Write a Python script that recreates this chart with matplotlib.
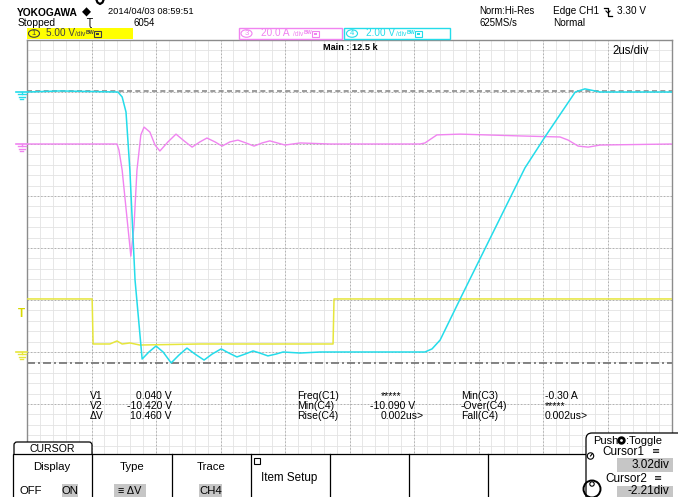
import matplotlib
matplotlib.use("Agg")
import matplotlib.pyplot as plt
from matplotlib.patches import Rectangle, FancyBboxPatch, Circle, Ellipse
import numpy as np

# time axis in us (2us/div, 10 div)
t_ch1 = [0.0, 2.02, 2.05, 2.57, 2.79, 2.95, 3.19, 3.50, 5.36, 9.49, 9.52, 20.0]
v_ch1 = [5.1, 5.1, 0.77, 0.77, 1.06, 0.77, 0.87, 0.67, 0.77, 0.77, 5.1, 5.1]

t_ch3 = [0.0, 2.79, 2.85, 2.95, 3.22, 3.32, 3.41, 3.53, 3.63, 3.81, 3.97, 4.12, 4.37, 4.62,
         4.87, 5.12, 5.36, 5.58, 5.83, 6.05, 6.29, 6.54, 6.79, 7.04, 7.29, 7.53, 8.00, 8.47,
         9.40, 12.19, 12.34, 12.71, 13.43, 15.29, 16.53, 16.78, 17.09, 17.40, 17.77, 20.0]
i_ch3 = [0.0, 0.0, -2.3, -10.0, -43.1, -31.2, -10.0, 3.5, 6.5, 4.6, -0.4, -2.7, 0.8, 3.8,
         1.2, -1.2, 0.8, 2.3, 0.8, -0.8, 0.8, 1.5, 0.4, -0.8, 0.4, 1.2, -0.4, 0.4,
         0.0, 0.0, 0.4, 3.5, 3.8, 3.1, 2.7, 1.5, -0.8, -1.2, -0.4, 0.0]

t_ch4 = [0.0, 1.02, 2.82, 2.95, 3.07, 3.19, 3.35, 3.57, 3.78, 4.00, 4.22, 4.47, 4.71, 4.96,
         5.21, 5.49, 5.74, 6.02, 6.26, 6.51, 6.76, 7.01, 7.22, 7.47, 7.72, 7.94, 8.47, 9.09,
         12.34, 12.56, 12.81, 13.49, 15.44, 16.06, 17.00, 17.30, 17.77, 20.0]
v_ch4 = [0.0, 0.04, 0.0, -0.19, -0.77, -3.0, -7.23, -10.27, -10.0, -9.77, -10.0, -10.42, -10.12, -9.85,
         -10.08, -10.31, -10.08, -9.88, -10.04, -10.19, -10.08, -9.96, -10.04, -10.15, -10.08, -10.0, -10.04, -10.0,
         -10.0, -9.88, -9.54, -7.81, -2.92, -1.73, 0.0, 0.12, 0.0, 0.0]

scales = {"CH1": 5.0, "CH3": 20.0, "CH4": 2.0}
positions = {"CH1": -2.0, "CH3": 2.0, "CH4": 3.0}
trig_level = 3.30
cursors = [3.02, -2.21]

meas_left = [("V1", "0.040 V"), ("V2", "-10.420 V"), ("ΔV", "10.460 V")]
meas_mid = [("Freq(C1)", "*****"), ("Min(C4)", "-10.090 V"), ("Rise(C4)", "0.002us>")]
meas_right = [("Min(C3)", "-0.30 A"), ("-Over(C4)", "*****"), ("Fall(C4)", "0.002us>")]

YEL = "#e6e63c"
PINK = "#f084f0"
CYAN = "#24dcea"

plt.rcParams["font.family"] = ["Liberation Sans", "DejaVu Sans"]

fig = plt.figure(figsize=(6.78, 4.97), dpi=100)
ax = fig.add_axes([27 / 678, 1 - 456 / 497, 645 / 678, 416 / 497])
ax.set_xlim(0, 20)
ax.set_ylim(-4, 4)
ax.set_xticks([])
ax.set_yticks([])
for s in ["left", "top", "right"]:
    ax.spines[s].set_color("#8c8c8c")
    ax.spines[s].set_linewidth(1.0)
ax.spines["bottom"].set_visible(False)

# graticule
for x in np.arange(0, 20.01, 0.4):
    ax.axvline(x, color="#e3e3e3", lw=0.6, zorder=0)
for y in np.arange(-4, 4.01, 0.2):
    ax.axhline(y, color="#e3e3e3", lw=0.6, zorder=0)
for x in range(2, 20, 2):
    ax.axvline(x, color="#b0b0b0", lw=0.7, ls=(0, (1.5, 2)), zorder=1)
for y in range(-3, 4):
    ax.axhline(y, color="#b0b0b0", lw=0.7, ls=(0, (1.5, 2)), zorder=1)

# cursors
ax.axhline(cursors[0], color="#8a8a8a", lw=1.2, ls=(0, (3, 2)), zorder=2)
ax.axhline(cursors[1], color="#707070", lw=1.2, ls=(0, (4.8, 1.8, 1.2, 1.8)), zorder=2)

ax.plot(t_ch1, np.array(v_ch1) / scales["CH1"] + positions["CH1"], color=YEL, lw=1.1, zorder=4)
ax.plot(t_ch3, np.array(i_ch3) / scales["CH3"] + positions["CH3"], color=PINK, lw=1.0, zorder=5)
ax.plot(t_ch4, np.array(v_ch4) / scales["CH4"] + positions["CH4"], color=CYAN, lw=1.1, zorder=6)

ov = fig.add_axes([0, 0, 1, 1], zorder=5)
ov.set_xlim(0, 678)
ov.set_ylim(497, 0)
ov.axis("off")


def ypx(d):
    return ov.transData.inverted().transform(ax.transData.transform((0, d)))[1]


# ground markers
for ch, col in [("CH4", CYAN), ("CH3", PINK), ("CH1", YEL)]:
    y0 = ypx(positions[ch])
    ov.plot([16, 27], [y0, y0], color=col, lw=1.2)
    ov.plot([21.5, 21.5], [y0, y0 + 2], color=col, lw=1.0)
    ov.plot([17.5, 25.5], [y0 + 2.5, y0 + 2.5], color=col, lw=1.0)
    ov.plot([18.5, 24.5], [y0 + 5, y0 + 5], color=col, lw=1.0)
    ov.plot([20, 23], [y0 + 7.5, y0 + 7.5], color=col, lw=1.0)
yt = ypx(trig_level / scales["CH1"] + positions["CH1"])
ov.text(21, yt - 4, "T", color="#d8d800", fontsize=8.5, fontweight="bold", ha="center", va="center")

# header (cropped glyph at the very top drawn as a stroke)
ov.plot([96.5, 97.5, 100, 102.5, 103.5], [0, 2.5, 4, 2.5, 0], color="black", lw=1.6)
ov.text(17, 12.5, "YOKOGAWA", fontsize=7.4, fontweight="bold", va="center")
ov.text(82, 12.5, "◆", fontsize=8.5, va="center", family="DejaVu Sans")
ov.text(108, 11, "2014/04/03 08:59:51", fontsize=6.7, va="center")
ov.text(18, 23.5, "Stopped", fontsize=7.4, va="center")
ov.text(86, 23, "Ʈ", fontsize=7, va="center", family="DejaVu Sans")
ov.text(133, 23.5, "6054", fontsize=6.9, va="center")
ov.text(479, 11.5, "Norm:Hi-Res", fontsize=6.9, va="center")
ov.text(479, 23, "625MS/s", fontsize=6.9, va="center")
ov.text(553, 11.5, "Edge CH1", fontsize=7.2, va="center")
ov.plot([604, 608, 608, 612], [7.5, 7.5, 15.5, 15.5], color="black", lw=0.9)
ov.plot([606, 608, 610], [11, 13, 11], color="black", lw=0.8)
ov.text(617, 11.5, "3.30 V", fontsize=7.2, va="center")
ov.text(553, 23, "Normal", fontsize=7.2, va="center")

# channel bar
ov.add_patch(Rectangle((27, 28), 106, 11, facecolor="#ffff00", edgecolor="none"))
ov.add_patch(Rectangle((239, 28), 103, 11, facecolor="white", edgecolor=PINK, lw=1.0))
ov.add_patch(Rectangle((344, 28), 106, 11, facecolor="white", edgecolor=CYAN, lw=1.0))
for cx, num, val, vx, dx, col in [(34, "1", "5.00 V", 46, 76, "#404040"),
                                  (246.5, "3", "20.0 A", 261, 294, PINK),
                                  (352, "4", "2.00 V", 366, 397, CYAN)]:
    ov.add_patch(Ellipse((cx, 33.5), 11, 7.5, fill=False, edgecolor=col, lw=0.8))
    ov.text(cx, 33.7, num, fontsize=5.5, color=col, ha="center", va="center")
    ov.text(vx, 33.5, val, fontsize=7.2, color=col, va="center")
    ov.text(dx - 1, 35, "/div", fontsize=4.8, color=col, va="center")
    ov.text(dx + 10, 32.5, "BW", fontsize=3.8, color=col, va="center", fontweight="bold")
    ov.add_patch(Rectangle((dx + 18, 30.5), 7, 6, fill=False, edgecolor=col, lw=0.8))
    ov.add_patch(Rectangle((dx + 20, 32.5), 3, 2.2, facecolor=col, edgecolor="none"))

ov.text(350, 47, "Main : 12.5 k", fontsize=6.6, fontweight="bold", ha="center", va="center")
ov.text(612, 51, "2us/div", fontsize=8.3, va="center")

# measurements
rows = [396, 406, 416]
for (lab, val), y in zip(meas_left, rows):
    ov.text(90, y, lab, fontsize=7.5, va="center")
    ov.text(172, y, val, fontsize=7.5, va="center", ha="right")
for (lab, val), y in zip(meas_mid, rows):
    ov.text(297, y, lab, fontsize=7.5, va="center")
    ov.text(370 if val.startswith("-") else 381, y, val, fontsize=7.5, va="center")
for (lab, val), y in zip(meas_right, rows):
    ov.text(461, y, lab, fontsize=7.5, va="center")
    ov.text(545, y, val, fontsize=7.5, va="center")

# soft-key menu
ov.add_patch(FancyBboxPatch((14, 442), 78, 18, boxstyle="round,pad=0,rounding_size=3",
                            facecolor="white", edgecolor="black", lw=0.9))
ov.add_patch(Rectangle((13, 454), 574, 50, facecolor="white", edgecolor="black", lw=0.9))
for x in [92, 172, 251, 330, 409, 488]:
    ov.plot([x, x], [454, 497], color="black", lw=0.9)
ov.text(52, 448.5, "CURSOR", fontsize=7.6, ha="center", va="center")
ov.text(52, 467, "Display", fontsize=8.2, ha="center", va="center")
ov.text(132, 467, "Type", fontsize=8.2, ha="center", va="center")
ov.text(211, 467, "Trace", fontsize=8.2, ha="center", va="center")
ov.add_patch(Rectangle((62, 484), 16, 14, facecolor="#c6c6c6", edgecolor="none"))
ov.add_patch(Rectangle((114, 484), 32, 14, facecolor="#c6c6c6", edgecolor="none"))
ov.add_patch(Rectangle((199, 484), 23, 14, facecolor="#c6c6c6", edgecolor="none"))
ov.text(31, 491, "OFF", fontsize=8.2, ha="center", va="center")
ov.text(70, 491, "ON", fontsize=8.2, ha="center", va="center")
ov.text(130, 491, "≡ ΔV", fontsize=7.8, ha="center", va="center")
ov.text(210.5, 491, "CH4", fontsize=8.2, ha="center", va="center")
ov.add_patch(Rectangle((254, 458), 6, 6, fill=False, edgecolor="black", lw=0.8))
ov.text(261, 478, "Item Setup", fontsize=8.4, va="center")

# jog panel
ov.add_patch(FancyBboxPatch((586, 433), 100, 70, boxstyle="round,pad=0,rounding_size=6",
                            facecolor="white", edgecolor="black", lw=0.9))
ov.text(593, 440.5, "Push", fontsize=8, va="center")
ov.add_patch(Circle((621.5, 440.5), 2.8, facecolor="white", edgecolor="black", lw=2.0))
ov.text(626, 440.5, ":Toggle", fontsize=8, va="center")
ov.add_patch(Circle((590.5, 456), 3.2, fill=False, edgecolor="black", lw=0.8))
ov.plot([590.5, 592.5], [456, 453.5], color="black", lw=0.8)
ov.text(602, 452, "Cursor1", fontsize=8.5, va="center")
ov.text(652, 451, "≡", fontsize=7, va="center", family="DejaVu Sans")
ov.add_patch(Rectangle((617, 458), 56, 13.5, facecolor="#c6c6c6", edgecolor="none"))
ov.text(669, 464.5, "3.02div", fontsize=8.5, ha="right", va="center")
ov.add_patch(Circle((592, 489), 8.5, fill=False, edgecolor="black", lw=1.4))
ov.add_patch(Circle((592, 484), 2.2, fill=False, edgecolor="black", lw=0.8))
ov.text(605, 479.5, "Cursor2", fontsize=8.5, va="center")
ov.text(654, 478.5, "≡", fontsize=7, va="center", family="DejaVu Sans")
ov.add_patch(Rectangle((617, 486), 56, 14, facecolor="#c6c6c6", edgecolor="none"))
ov.text(669, 491.5, "-2.21div", fontsize=8.5, ha="right", va="center")

fig.savefig("out.png", dpi=100)
